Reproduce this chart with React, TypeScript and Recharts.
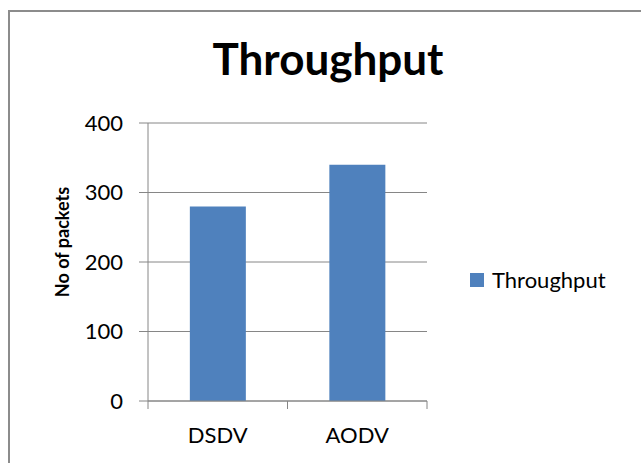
import React from 'react';
import { BarChart, Bar, XAxis, YAxis, CartesianGrid, Legend } from 'recharts';

const protocols = ['DSDV', 'AODV'];
const throughput = [280, 340];
const yTicks = [0, 100, 200, 300, 400];

const data = protocols.map((name, i) => ({ name, Throughput: throughput[i] }));

const BLUE = '#4F81BD';
const GRID = '#868686';
const FONT = 'Lato, "Open Sans", sans-serif';

// category tick: label at centre, tick marks on the category boundaries (Excel style)
const CategoryTick = (props: any) => {
  const { x, y, payload, index, visibleTicksCount } = props;
  const half = payload?.offset ?? 0;
  const top = y - 26;
  return (
    <g>
      <line x1={x - half} x2={x - half} y1={top} y2={top + 8} stroke={GRID} strokeWidth={1} />
      {index === visibleTicksCount - 1 && (
        <line x1={x + half} x2={x + half} y1={top} y2={top + 8} stroke={GRID} strokeWidth={1} />
      )}
      <text x={x} y={y} dy="0.71em" textAnchor="middle" fill="#000" fontSize={22} fontFamily={FONT}>
        {payload.value}
      </text>
    </g>
  );
};

const YLabel = () => {
  const cx = 69;
  const cy = 242;
  return (
    <text
      x={cx}
      y={cy}
      transform={`rotate(-90 ${cx} ${cy})`}
      textAnchor="middle"
      fontSize={18}
      fontWeight="bold"
      fontFamily={FONT}
      fill="#000"
    >
      No of packets
    </text>
  );
};

const LegendContent = () => (
  <div style={{ display: 'flex', alignItems: 'center', fontFamily: FONT, fontSize: 22, color: '#000' }}>
    <span style={{ display: 'inline-block', width: 14, height: 14, background: BLUE, marginRight: 8 }} />
    <span>Throughput</span>
  </div>
);

export default function App() {
  return (
    <div style={{ position: 'absolute', left: 0, top: 0, width: 641, height: 463, overflow: 'hidden', background: '#fff' }}>
      {/* chart frame: only top and left edges fall inside the picture */}
      <svg style={{ position: 'absolute', left: 0, top: 0 }} width={641} height={463}>
        <line x1={9} y1={11} x2={641} y2={11} stroke="#8c8c8c" strokeWidth={2} />
        <line x1={9} y1={10} x2={9} y2={463} stroke="#8c8c8c" strokeWidth={2} />
        <text x={328} y={75} textAnchor="middle" fontSize={44} fontWeight="bold" fontFamily={FONT} fill="#000">
          Throughput
        </text>
      </svg>
      <div style={{ position: 'absolute', left: 0, top: 0 }}>
        <BarChart
          width={641}
          height={463}
          data={data}
          margin={{ top: 123, right: 214, bottom: 0, left: 0 }}
          barCategoryGap="30%"
        >
          <CartesianGrid horizontal vertical={false} stroke={GRID} strokeWidth={1} />
          <XAxis
            dataKey="name"
            height={62}
            stroke={GRID}
            tickLine={false}
            tickSize={8}
            tickMargin={18}
            tick={<CategoryTick />}
            interval={0}
          />
          <YAxis
            width={148}
            domain={[0, 400]}
            ticks={yTicks}
            stroke={GRID}
            tickSize={9}
            tickMargin={16}
            tick={{ fill: '#000', fontSize: 22, fontFamily: FONT }}
            label={{ content: <YLabel /> }}
          />
          <Legend
            content={<LegendContent />}
            wrapperStyle={{ position: 'absolute', left: 470, top: 266, width: 'auto', height: 'auto' }}
            layout="horizontal"
            verticalAlign="middle"
            align="center"
          />
          <Bar dataKey="Throughput" fill={BLUE} isAnimationActive={false} />
        </BarChart>
      </div>
    </div>
  );
}
